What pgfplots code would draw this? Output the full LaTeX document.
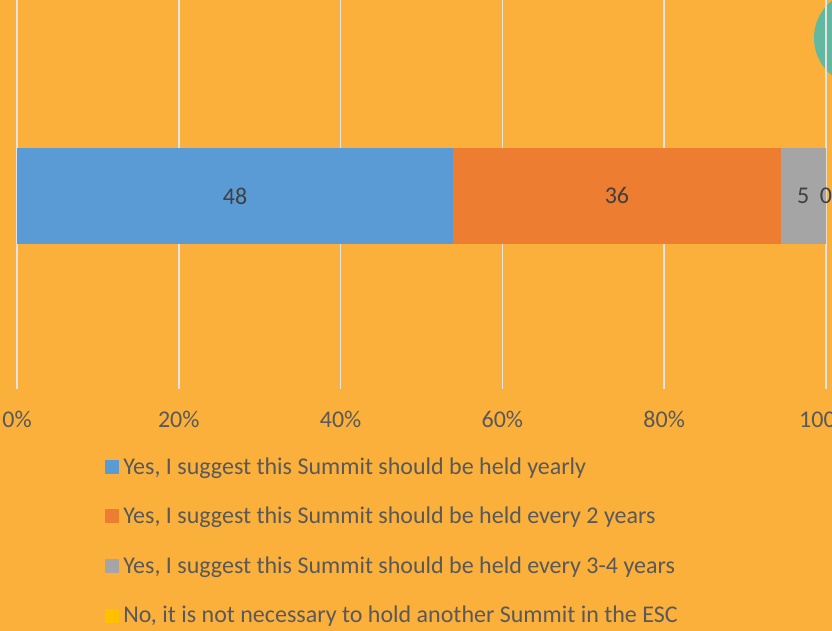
\documentclass[border=0pt]{standalone}
\usepackage{pgfplots}
\pgfplotsset{compat=1.18}
\usepackage{fontspec}
\setmainfont{Carlito}

\definecolor{bgorange}{HTML}{FBB03B}
\definecolor{tealdot}{HTML}{63B9A0}
\definecolor{cblue}{HTML}{5B9BD5}
\definecolor{corange}{HTML}{ED7D31}
\definecolor{cgray}{HTML}{A5A5A5}
\definecolor{cyellow}{HTML}{FFC000}
\definecolor{gridgray}{HTML}{E3E3E3}
\definecolor{labelgray}{HTML}{595959}
\definecolor{valgray}{HTML}{404040}

\begin{document}
\begin{tikzpicture}
  % page is 832 x 631 px at 0.75pt per px
  \path[use as bounding box] (0pt,0pt) rectangle (624pt,473.25pt);
  \clip (0pt,0pt) rectangle (624pt,473.25pt);
  \fill[bgorange] (0pt,0pt) rectangle (624pt,473.25pt);
  % edge of a neighbouring shape, cut off by the crop
  \fill[tealdot] (646.5pt,444.75pt) circle (36pt);

  \begin{axis}[
      at={(12.75pt,181.5pt)}, anchor=south west,
      scale only axis,
      width=606.75pt, height=304pt,
      xbar stacked,
      stacked ignores zero=false,
      bar width=72pt,
      xmin=0, xmax=100,
      ymin=-1, ymax=1.1,
      ytick=\empty,
      axis line style={draw=none},
      xtick={0,20,40,60,80,100},
      xticklabels={0\%,20\%,40\%,60\%,80\%,100\%},
      xmajorgrids,
      grid style={gridgray, line width=1.1pt},
      major tick length=0pt,
      tick label style={font=\fontsize{18}{22}\selectfont, text=labelgray},
      xticklabel style={yshift=-13pt},
      nodes near coords,
      point meta=explicit symbolic,
      every node near coord/.append style={font=\fontsize{18}{22}\selectfont, text=valgray},
      legend cell align=left,
      legend style={
        at={(axis description cs:0.103,-0.155)}, anchor=north west,
        draw=none, fill=none,
        font=\fontsize{18}{22}\selectfont, text=labelgray,
        row sep=19.2pt,
        /tikz/every odd column/.append style={column sep=1.5pt},
      },
      legend image code/.code={\fill[#1,draw=none] (0pt,-5.25pt) rectangle (10.5pt,5.25pt);},
    ]
    % shares of 89 answers (48, 36, 5, 0), labels show the counts
    \addplot[fill=cblue, draw=none] coordinates {(53.93,0) [48]};
    \addplot[fill=corange, draw=none] coordinates {(40.45,0) [36]};
    \addplot[fill=cgray, draw=none] coordinates {(5.62,0) [5]};
    \addplot[fill=cyellow, draw=none] coordinates {(0,0) [0]};
    \legend{{Yes, I suggest this Summit should be held yearly},
            {Yes, I suggest this Summit should be held every 2 years},
            {Yes, I suggest this Summit should be held every 3-4 years},
            {No, it is not necessary to hold another Summit in the ESC}}
  \end{axis}
\end{tikzpicture}
\end{document}
